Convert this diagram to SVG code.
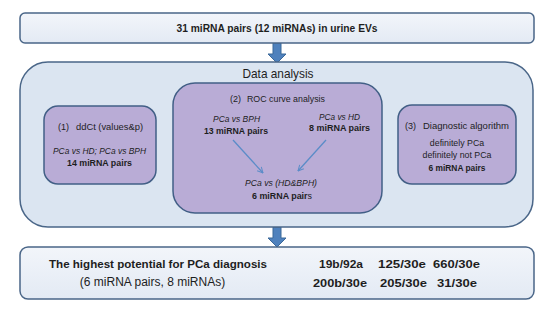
<svg xmlns="http://www.w3.org/2000/svg" width="550" height="321" viewBox="0 0 550 321">
<defs>
<linearGradient id="gLight" x1="0" y1="0" x2="0" y2="1">
<stop offset="0" stop-color="#f2f5fa"/>
<stop offset="1" stop-color="#e3eaf4"/>
</linearGradient>
<marker id="v" viewBox="0 0 10 10" refX="9" refY="5" markerWidth="7" markerHeight="7" orient="auto" markerUnits="userSpaceOnUse">
<path d="M1,1 L9,5 L1,9" fill="none" stroke="#5b8cc8" stroke-width="1.4"/>
</marker>
<style>
.box{stroke:#4a6688;stroke-width:1.5}
.light{fill:url(#gLight)}
.outer{fill:#dbe5f1}
.purple{fill:#b9acd6;stroke:#425f86;stroke-width:1.5}
.big{fill:#4f81bd;stroke:#3b6899;stroke-width:1}
.thin{fill:none;stroke:#5b8cc8;stroke-width:1.3;marker-end:url(#v)}
text{font-family:"Liberation Sans",Arial,sans-serif;fill:#1e1e1e}
.b{font-weight:bold}
.i{font-style:italic}
.s{font-size:9px}
.c{text-anchor:middle}
</style>
</defs>
<rect width="550" height="321" fill="#ffffff"/>

<g id="connectors">
<path class="big" d="M273,43 H281 V54 H286 L277,63 L268,54 H273 Z"/>
<path class="big" d="M273,227 H281 V238 H286 L277,247 L268,238 H273 Z"/>
</g>

<g id="input">
<rect class="box light" x="20" y="13" width="514" height="30" rx="5"/>
<text class="b c" x="277" y="32" font-size="10.3" textLength="201" lengthAdjust="spacingAndGlyphs">31 miRNA pairs (12 miRNAs) in urine EVs</text>
</g>

<g id="data-analysis">
<rect class="box outer" x="20" y="62" width="513" height="165" rx="28"/>
<text class="c" x="278" y="77.5" font-size="12.2" textLength="71" lengthAdjust="spacingAndGlyphs" fill="#222">Data analysis</text>
</g>

<g id="ddct">
<rect class="purple" x="44" y="106" width="112" height="78" rx="14"/>
<text class="s" x="58" y="129.5" font-size="9.3">(1)</text>
<text class="s" x="76" y="129.5" font-size="9.3" textLength="67" lengthAdjust="spacingAndGlyphs">ddCt (values&amp;p)</text>
<text class="s i c" x="99.5" y="154" textLength="93" lengthAdjust="spacingAndGlyphs">PCa vs HD; PCa vs BPH</text>
<text class="s b c" x="99.5" y="166" textLength="65" lengthAdjust="spacingAndGlyphs">14 miRNA pairs</text>
</g>

<g id="roc">
<rect class="purple" x="173" y="83" width="209" height="130" rx="22"/>
<text class="s" x="230" y="101.5">(2)</text>
<text class="s" x="247" y="101.5" textLength="78" lengthAdjust="spacingAndGlyphs">ROC curve analysis</text>
<text class="s i c" x="236.5" y="121.5" textLength="47" lengthAdjust="spacingAndGlyphs">PCa vs BPH</text>
<text class="s b c" x="236" y="133.5" textLength="64" lengthAdjust="spacingAndGlyphs">13 miRNA pairs</text>
<text class="s i c" x="339.5" y="119.5" textLength="41" lengthAdjust="spacingAndGlyphs">PCa vs HD</text>
<text class="s b c" x="339.5" y="131" textLength="61" lengthAdjust="spacingAndGlyphs">8 miRNA pairs</text>
<path class="thin" d="M233,140 L263,173"/>
<path class="thin" d="M326,140 L298,171"/>
<text class="s i c" x="281" y="186" textLength="72" lengthAdjust="spacingAndGlyphs">PCa vs (HD&amp;BPH)</text>
<text class="s b c" x="282" y="198.5" textLength="60" lengthAdjust="spacingAndGlyphs">6 miRNA pair<tspan font-weight="normal">s</tspan></text>
</g>

<g id="algorithm">
<rect class="purple" x="398" y="105" width="118" height="79" rx="14"/>
<text class="s" x="405" y="128.5" font-size="9.5">(3)</text>
<text class="s" x="423" y="128.5" font-size="9.5" textLength="86" lengthAdjust="spacingAndGlyphs">Diagnostic algorithm</text>
<text class="c" x="457" y="145.5" font-size="8.8">definitely PCa</text>
<text class="c" x="457" y="157.5" font-size="8.8">definitely not PCa</text>
<text class="b c" x="457" y="170.5" font-size="8.4">6 miRNA pairs</text>
</g>

<g id="result">
<rect class="box light" x="20" y="247" width="514" height="52" rx="8"/>
<text class="b c" x="158" y="268" font-size="11.5" textLength="218" lengthAdjust="spacingAndGlyphs">The highest potential for PCa diagnosis</text>
<text class="c" x="152.5" y="286" font-size="12">(6 miRNA pairs, 8 miRNAs)</text>
<text class="b" x="319" y="268" font-size="11.6" textLength="44" lengthAdjust="spacingAndGlyphs">19b/92a</text>
<text class="b" x="378" y="268" font-size="11.6" textLength="48" lengthAdjust="spacingAndGlyphs">125/30e</text>
<text class="b" x="433" y="268" font-size="11.6" textLength="47" lengthAdjust="spacingAndGlyphs">660/30e</text>
<text class="b" x="313" y="287" font-size="11.6" textLength="54" lengthAdjust="spacingAndGlyphs">200b/30e</text>
<text class="b" x="380" y="287" font-size="11.6" textLength="47" lengthAdjust="spacingAndGlyphs">205/30e</text>
<text class="b" x="437" y="287" font-size="11.6" textLength="40" lengthAdjust="spacingAndGlyphs">31/30e</text>
</g>
</svg>
